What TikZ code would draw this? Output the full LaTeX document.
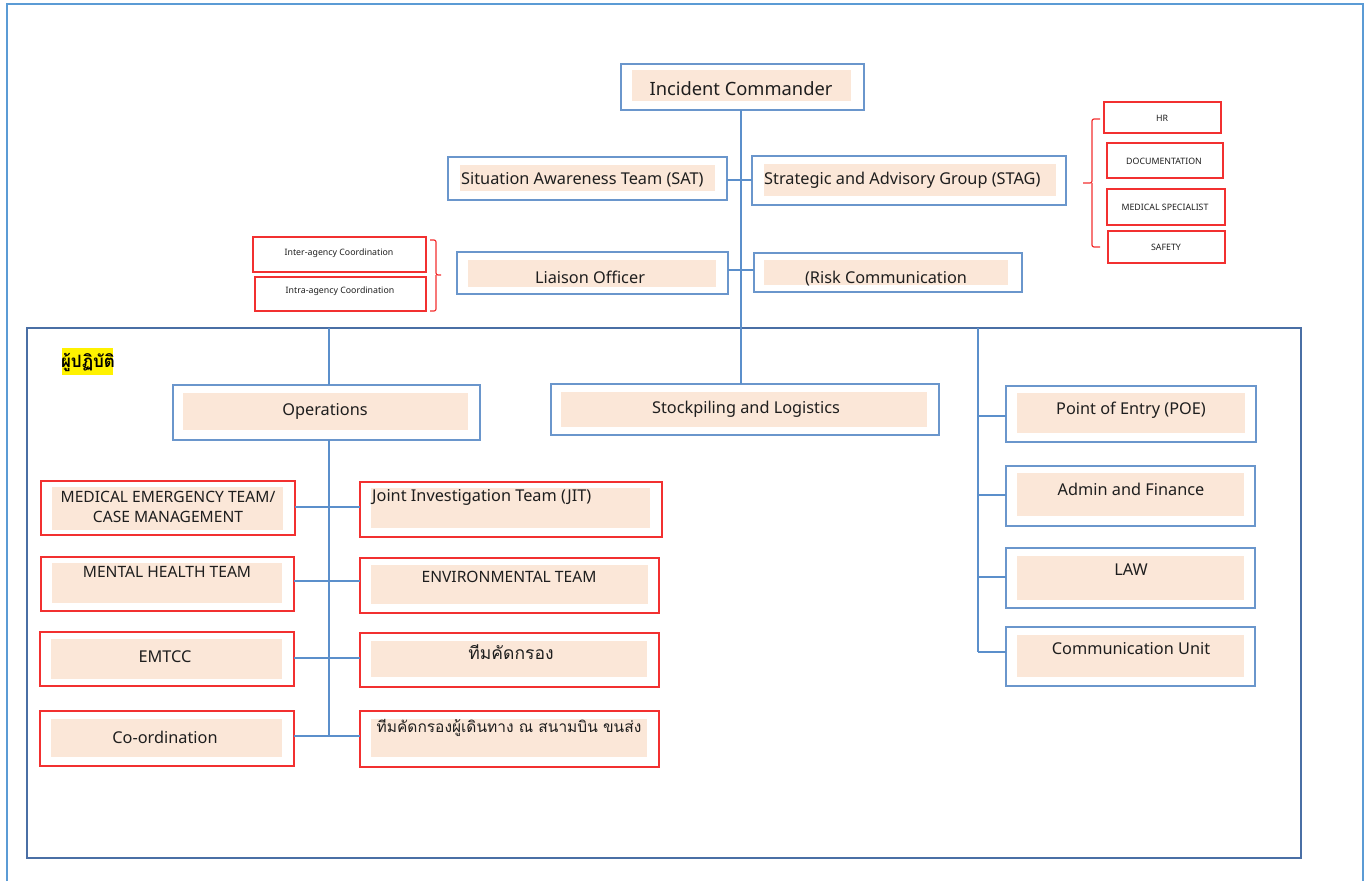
\documentclass[tikz,border=0pt]{standalone}
\usepackage{fontspec}
\setmainfont{Noto Sans}
\newfontfamily\thaifont[Script=Thai]{Loma}
\definecolor{bluebox}{HTML}{6A96CC}
\definecolor{blueline}{HTML}{5B8FCB}
\definecolor{bluefr}{HTML}{4A6FA5}
\definecolor{outerblue}{HTML}{5B9BD5}
\definecolor{redbox}{HTML}{F23030}
\definecolor{peachfill}{HTML}{FBE7D8}
\definecolor{txtc}{HTML}{1E1E1E}
\newcommand\orgbox[6]{\node[#1, minimum width={(#5-#3)*1pt}, minimum height={(#6-#4)*1pt}] (#2) at ({(#3+#5)/2},{(#4+#6)/2}) {};}
\newcommand\pch[4]{\fill[peachfill] (#1,#2) rectangle (#3,#4);}
\tikzset{
  bbox/.style={draw=bluebox, line width=1.6pt, inner sep=0pt, outer sep=0pt, rectangle},
  rbox/.style={draw=redbox, line width=1.6pt, inner sep=0pt, outer sep=0pt, rectangle},
  conn/.style={draw=blueline, line width=1.3pt},
  brk/.style={draw=redbox, line width=1.2pt, rounded corners=2pt},
  lbl/.style={text=txtc, inner sep=0pt, font=\fontsize{16.3}{18}\selectfont},
  small/.style={text=txtc, inner sep=0pt, font=\fontsize{8.8}{10}\selectfont},
  thlbl/.style={text=txtc, inner sep=0pt},
}
\begin{document}
\begin{tikzpicture}[x=1pt,y=-1pt]
\useasboundingbox (0,0) rectangle (1367,881);
% outer page frame
\draw[outerblue, line width=2pt] (7,881) -- (7,4) -- (1363,4) -- (1363,881);
% inner frame
\orgbox{draw=bluefr, line width=1.5pt, inner sep=0pt, outer sep=0pt}{fr}{27}{328}{1301}{858}
% top boxes
\orgbox{bbox}{ic}{621}{64}{864}{110}
\pch{632}{70}{851}{101}
\node[lbl, font=\fontsize{18.3}{20}\selectfont] (ict) at (741,89) {Incident Commander};
\orgbox{bbox}{sat}{448}{157}{727}{200}
\pch{460}{165}{715}{191}
\node[lbl, anchor=west] (satt) at (461,180) {Situation Awareness Team (SAT)};
\orgbox{bbox}{stag}{752}{156}{1066}{205}
\pch{764}{164}{1056}{196}
\node[lbl, anchor=west] (stagt) at (764,180) {Strategic and Advisory Group (STAG)};
\orgbox{bbox}{lia}{457}{252}{728}{294}
\pch{468}{260}{716}{287}
\node[lbl] (liat) at (590,277) {Liaison Officer};
\orgbox{bbox}{risk}{754}{253}{1022}{292}
\pch{764}{260}{1008}{285}
\node[lbl] (riskt) at (886,279) {(Risk Communication};
% small red boxes left
\orgbox{rbox}{inter}{253}{237}{426}{272}
\node[small] (intert) at (339,253) {Inter-agency Coordination};
\orgbox{rbox}{intra}{255}{277}{426}{311}
\node[small] (intrat) at (340,291) {Intra-agency Coordination};
\draw[brk] (430,240) -| (436,275) -- (441,275);
\draw[brk] (430,311) -| (436,275);
% small red boxes right
\orgbox{rbox}{hr}{1104}{102}{1221}{133}
\node[small] (hrt) at (1162,118) {HR};
\orgbox{rbox}{doc}{1107}{143}{1223}{178}
\node[small] (doct) at (1164,161) {DOCUMENTATION};
\orgbox{rbox}{med}{1107}{189}{1225}{225}
\node[small] (medt) at (1165,207) {MEDICAL SPECIALIST};
\orgbox{rbox}{saf}{1108}{231}{1225}{263}
\node[small] (saft) at (1166,247) {SAFETY};
\draw[brk] (1100,119) -| (1092,183) -- (1083,183);
\draw[brk] (1100,247) -| (1092,183);
% thai heading
\fill[yellow] (62,348) rectangle (113,375);
\node[inner sep=0pt, font=\thaifont\bfseries\fontsize{17}{20}\selectfont] (head) at (88,362) {ผู้ปฏิบัติ};
% second level
\orgbox{bbox}{ops}{173}{385}{480}{440}
\pch{183}{393}{468}{430}
\node[lbl] (opst) at (325,411) {Operations};
\orgbox{bbox}{stock}{551}{384}{939}{435}
\pch{561}{392}{927}{427}
\node[lbl] (stockt) at (746,409) {Stockpiling and Logistics};
% ops left column
\orgbox{rbox}{met}{41}{481}{295}{535}
\pch{52}{487}{283}{530}
\node[lbl, align=center, font=\fontsize{15.6}{20}\selectfont] (mett) at (168,507) {MEDICAL EMERGENCY TEAM/\\CASE MANAGEMENT};
\orgbox{rbox}{mh}{41}{557}{294}{611}
\pch{52}{563}{282}{603}
\node[lbl, font=\fontsize{15.6}{18}\selectfont] (mht) at (167,572) {MENTAL HEALTH TEAM};
\orgbox{rbox}{emt}{40}{632}{294}{686}
\pch{51}{639}{282}{679}
\node[lbl] (emtt) at (165,657) {EMTCC};
\orgbox{rbox}{coo}{40}{711}{294}{766}
\pch{51}{719}{282}{757}
\node[lbl] (coot) at (165,737) {Co-ordination};
% ops right column
\orgbox{rbox}{jit}{360}{482}{662}{537}
\pch{371}{488}{650}{528}
\node[lbl, anchor=west] (jitt) at (372,497) {Joint Investigation Team (JIT)};
\orgbox{rbox}{env}{360}{558}{659}{613}
\pch{371}{565}{648}{604}
\node[lbl, font=\fontsize{15.6}{18}\selectfont] (envt) at (509,577) {ENVIRONMENTAL TEAM};
\orgbox{rbox}{scr}{360}{633}{659}{687}
\pch{371}{641}{647}{677}
\node[thlbl, font=\thaifont\fontsize{17.5}{20}\selectfont] (scrt) at (511,652) {ทีมคัดกรอง};
\orgbox{rbox}{trv}{360}{711}{659}{767}
\pch{371}{719}{647}{757}
\node[thlbl, font=\thaifont\fontsize{15.5}{20}\selectfont] (trvt) at (509,728) {ทีมคัดกรองผู้เดินทาง ณ สนามบิน ขนส่ง};
% right column
\orgbox{bbox}{poe}{1006}{386}{1256}{442}
\pch{1017}{393}{1245}{433}
\node[lbl] (poet) at (1131,410) {Point of Entry (POE)};
\orgbox{bbox}{adm}{1006}{466}{1255}{526}
\pch{1017}{473}{1244}{516}
\node[lbl] (admt) at (1131,489) {Admin and Finance};
\orgbox{bbox}{law}{1006}{548}{1255}{608}
\pch{1017}{556}{1244}{600}
\node[lbl] (lawt) at (1131,570) {LAW};
\orgbox{bbox}{com}{1006}{627}{1255}{686}
\pch{1017}{635}{1244}{677}
\node[lbl] (comt) at (1131,649) {Communication Unit};
% connectors
\coordinate (spine) at (741,0);
\draw[conn] (spine |- ic.south) -- (spine |- stock.north);
\draw[conn] (sat.east |- 0,180) -- (stag.west |- 0,180);
\draw[conn] (lia.east |- 0,270) -- (risk.west |- 0,270);
\coordinate (opsx) at (329,0);
\draw[conn] (opsx |- fr.north) -- (opsx |- ops.north);
\draw[conn] (opsx |- ops.south) -- (opsx |- 0,736);
\draw[conn] (met.east |- 0,507) -- (jit.west |- 0,507);
\draw[conn] (mh.east |- 0,581) -- (env.west |- 0,581);
\draw[conn] (emt.east |- 0,658) -- (scr.west |- 0,658);
\draw[conn] (coo.east |- 0,736) -- (trv.west |- 0,736);
\coordinate (rx) at (978,0);
\draw[conn] (rx |- fr.north) -- (rx |- 0,652);
\draw[conn] (rx |- 0,416) -- (poe.west |- 0,416);
\draw[conn] (rx |- 0,495) -- (adm.west |- 0,495);
\draw[conn] (rx |- 0,577) -- (law.west |- 0,577);
\draw[conn] (rx |- 0,652) -- (com.west |- 0,652);
\end{tikzpicture}
\end{document}
